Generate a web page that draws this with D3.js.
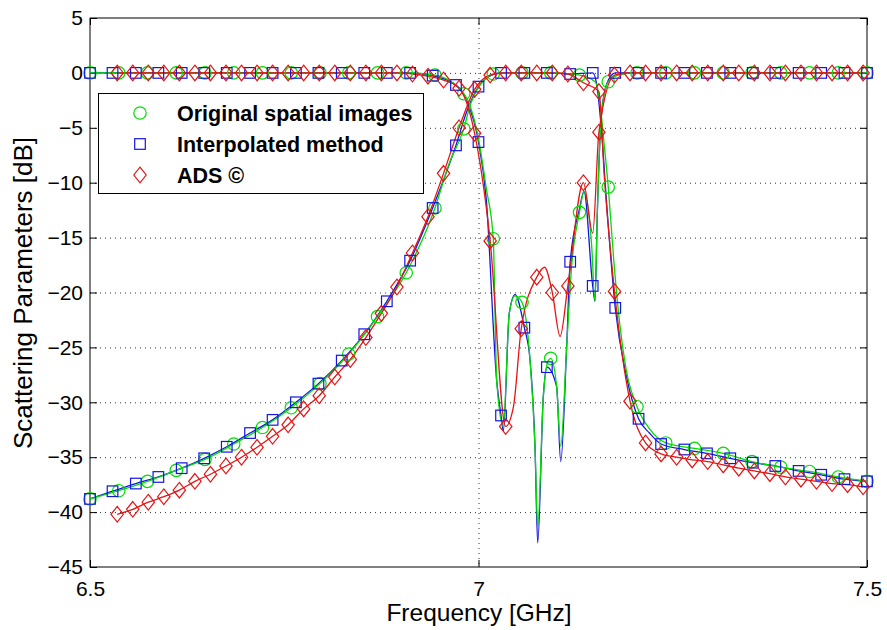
<!DOCTYPE html>
<html>
<head>
<meta charset="utf-8">
<script src="https://cdn.jsdelivr.net/npm/d3@7"></script>
<style>
  body { margin: 0; background: #fff; }
  svg { display: block; font-family: "Liberation Sans", Arial, Helvetica, sans-serif; }
</style>
</head>
<body>
<svg id="chart" width="887" height="630"></svg>
<script>
// marker samples, original spatial images (green circles)
const greenFreq = [6.5, 6.537, 6.574, 6.611, 6.648, 6.685, 6.722, 6.759, 6.796, 6.833, 6.870, 6.907, 6.944, 6.981,
  7.019, 7.056, 7.093, 7.130, 7.167, 7.204, 7.241, 7.278, 7.315, 7.352, 7.389, 7.426, 7.463, 7.5];
const greenS21 = [-38.8, -38.05, -37.2, -36.2, -35.2, -33.8, -32.3, -30.5, -28.3, -25.6, -22.2, -18.2, -12.3, -5.1,
  -0.1, 0, 0, -0.2, -10.4, -30.4, -33.7, -34.2, -34.65, -35.4, -35.9, -36.3, -36.8, -37.2];
const greenS11 = [0, 0, 0, 0, 0, 0, 0, 0, 0, 0, 0, 0, -0.2, -1.9,
  -15.1, -20.9, -26.0, -12.7, -0.8, 0, 0, 0, 0, 0, 0, 0, 0, 0];

// interpolated method (blue squares)
const blueFreq = [6.5, 6.529, 6.559, 6.588, 6.618, 6.647, 6.676, 6.706, 6.735, 6.765, 6.794, 6.824, 6.853, 6.882,
  6.912, 6.941, 6.971, 7.0, 7.029, 7.059, 7.088, 7.118, 7.147, 7.176, 7.206, 7.235, 7.265, 7.294, 7.324, 7.353,
  7.382, 7.412, 7.441, 7.471, 7.5];
const blueS21 = [-38.8, -38.1, -37.4, -36.8, -36.0, -35.1, -34.05, -32.8, -31.6, -30.0, -28.3, -26.2, -23.8, -20.8,
  -17.1, -12.3, -6.6, -1.25, 0, 0, 0, -0.1, 0, -21.4, -31.5, -33.8, -34.3, -34.65, -35.1, -35.5,
  -35.8, -36.25, -36.6, -37.0, -37.2];
const blueS11 = [0, 0, 0, 0, 0, 0, 0, 0, 0, 0, 0, 0, 0, 0,
  0, -0.25, -1.1, -6.3, -31.2, -23.2, -26.8, -17.2, -19.4, 0, 0, 0, 0, 0, 0, 0,
  0, 0, 0, 0, 0];

// ADS (red diamonds)
const adsFreq = [6.535, 6.555, 6.575, 6.595, 6.615, 6.635, 6.655, 6.675, 6.695, 6.715, 6.735, 6.755, 6.775, 6.795,
  6.815, 6.835, 6.855, 6.875, 6.895, 6.915, 6.935, 6.955, 6.975, 6.995, 7.015, 7.035, 7.055, 7.075, 7.095, 7.115,
  7.135, 7.155, 7.175, 7.195, 7.215, 7.235, 7.255, 7.275, 7.295, 7.315, 7.335, 7.355, 7.375, 7.395, 7.415, 7.435,
  7.455, 7.475, 7.495];
const adsS21 = [-40.2, -39.75, -39.1, -38.6, -38.0, -37.2, -36.55, -35.8, -35.0, -34.1, -33.1, -32.05, -30.6, -29.4,
  -27.7, -26.1, -24.1, -21.9, -19.5, -16.4, -13.1, -9.15, -5.0, -1.5, -0.2, 0, 0, 0, 0, -0.1,
  -0.9, -1.7, -19.9, -29.9, -33.7, -34.7, -35.0, -35.25, -35.4, -35.7, -36.0, -36.25, -36.5, -36.8, -37.0, -37.2,
  -37.4, -37.5, -37.7];
const adsS11 = [0, 0, 0, 0, 0, 0, 0, 0, 0, 0, 0, 0, 0, 0,
  0, 0, 0, 0, 0, -0.1, -0.3, -0.65, -1.4, -5.5, -15.3, -32.2, -23.3, -18.6, -20.0, -19.4,
  -10.0, -5.4, -0.2, 0, 0, 0, 0, 0, 0, 0, 0, 0, 0, 0, 0, 0,
  0, 0, 0];

// extra samples of the continuous curves (between markers)
const greenS11Extra = [[6.99, -3.2], [7.0, -6.0], [7.01, -10.5], [7.0234, -28], [7.0319, -32.2], [7.0396, -21.9],
  [7.047, -20.3], [7.0663, -26.1], [7.0727, -34], [7.0762, -41.3], [7.0834, -29.5], [7.0898, -26.2],
  [7.1006, -28.6], [7.1058, -34], [7.1135, -24.9], [7.12, -17.5], [7.1358, -10.8], [7.1457, -15.8],
  [7.1499, -20.8], [7.1529, -12.8], [7.158, -4], [7.18, -0.2]];
const greenS21Extra = [[6.962, -8.3], [6.99, -2.8], [7.0, -1.3], [7.01, -0.5], [7.15, -0.8], [7.156, -2.5],
  [7.161, -6], [7.174, -17], [7.182, -23], [7.19, -27], [7.22, -32.4]];
const blueS11Extra = [[6.985, -2.5], [7.01, -11.5], [7.0234, -28], [7.032, -32.6], [7.0396, -21.9], [7.047, -20.2],
  [7.0663, -26.1], [7.0727, -34], [7.0762, -42.8], [7.0834, -29.5], [7.1006, -28.6], [7.1058, -35.4],
  [7.1135, -24.9], [7.1296, -12.5], [7.1358, -10.8], [7.1499, -20.8], [7.1529, -12.8], [7.158, -4], [7.165, -1]];
const blueS21Extra = [[6.985, -3.5], [7.012, -0.4], [7.152, -1], [7.158, -5], [7.165, -12], [7.19, -27.5], [7.22, -32.8]];
const adsS11Extra = [[7.045, -30.4], [7.085, -17.7], [7.105, -24.0], [7.147, -14.6]];
const adsS21Extra = [[7.162, -9.5]];

const yTicks = [-45, -40, -35, -30, -25, -20, -15, -10, -5, 0, 5];
const xTicks = [6.5, 7, 7.5];
const legendLabels = ['Original spatial images', 'Interpolated method', 'ADS \u00A9'];

const svg = d3.select('#chart');
const x = d3.scaleLinear().domain([6.5, 7.5]).range([90, 867]);
const y = d3.scaleLinear().domain([-45, 5]).range([567, 18]);

// grid (dotted)
const grid = svg.append('g').attr('stroke', '#333').attr('stroke-width', 1).attr('stroke-dasharray', '1,4');
grid.selectAll('.gy').data(yTicks.filter(d => d > -45 && d < 5)).enter().append('line')
  .attr('x1', x(6.5)).attr('x2', x(7.5)).attr('y1', d => y(d) + 0.5).attr('y2', d => y(d) + 0.5);
grid.append('line').attr('x1', x(7) + 0.5).attr('x2', x(7) + 0.5).attr('y1', y(5)).attr('y2', y(-45));

// axes with inward ticks
const fmt = d => d3.format('')(d).replace('-', '\u2212');
const axLeft = svg.append('g').attr('transform', `translate(${x(6.5)},0)`)
  .call(d3.axisLeft(y).tickValues(yTicks).tickSizeInner(-7).tickSizeOuter(0).tickPadding(7).tickFormat(fmt));
const axRight = svg.append('g').attr('transform', `translate(${x(7.5)},0)`)
  .call(d3.axisRight(y).tickValues(yTicks).tickSizeInner(-7).tickSizeOuter(0).tickFormat(''));
const axBottom = svg.append('g').attr('transform', `translate(0,${y(-45)})`)
  .call(d3.axisBottom(x).tickValues(xTicks).tickSizeInner(-7).tickSizeOuter(0).tickPadding(14).tickFormat(d3.format('')));
const axTop = svg.append('g').attr('transform', `translate(0,${y(5)})`)
  .call(d3.axisTop(x).tickValues(xTicks).tickSizeInner(-7).tickSizeOuter(0).tickFormat(''));
[axLeft, axRight, axBottom, axTop].forEach(a => {
  a.select('.domain').remove();
  a.selectAll('line').attr('stroke', '#000');
  a.selectAll('text').attr('font-size', 21).attr('fill', '#000')
    .attr('font-family', '"Liberation Sans", Arial, Helvetica, sans-serif');
});

svg.append('rect').attr('x', x(6.5)).attr('y', y(5)).attr('width', x(7.5) - x(6.5)).attr('height', y(-45) - y(5))
  .attr('fill', 'none').attr('stroke', '#000').attr('stroke-width', 1);

// axis titles
svg.append('text').attr('x', 479).attr('y', 621).attr('text-anchor', 'middle').attr('font-size', 24.5)
  .text('Frequency [GHz]');
svg.append('text').attr('transform', 'translate(32,293) rotate(-90)').attr('text-anchor', 'middle')
  .attr('font-size', 26).text('Scattering Parameters [dB]');

// series
const methods = [
  { freq: greenFreq, s11: greenS11, s21: greenS21, e11: greenS11Extra, e21: greenS21Extra, color: '#00dd00', shape: 'circle' },
  { freq: blueFreq, s11: blueS11, s21: blueS21, e11: blueS11Extra, e21: blueS21Extra, color: '#1414e6', shape: 'square' },
  { freq: adsFreq, s11: adsS11, s21: adsS21, e11: adsS11Extra, e21: adsS21Extra, color: '#e61414', shape: 'diamond' }
];

const line = d3.line().x(d => x(d[0])).y(d => y(d[1])).curve(d3.curveMonotoneX);

function marker(g, shape, cx, cy) {
  if (shape === 'circle') {
    g.append('circle').attr('cx', cx).attr('cy', cy).attr('r', 6.2);
  } else if (shape === 'square') {
    g.append('rect').attr('x', cx - 5.3).attr('y', cy - 5.3).attr('width', 10.6).attr('height', 10.6);
  } else {
    g.append('path').attr('d', `M${cx},${cy - 7.8}L${cx + 6.2},${cy}L${cx},${cy + 7.8}L${cx - 6.2},${cy}Z`);
  }
}

const plot = svg.append('g');
// blue curves sit under the green ones, red on top
[methods[1], methods[0], methods[2]].forEach(m => {
  [[m.s11, m.e11], [m.s21, m.e21]].forEach(([vals, extra]) => {
    const pts = d3.zip(m.freq, vals).concat(extra).sort((a, b) => a[0] - b[0]);
    plot.append('path').attr('d', line(pts)).attr('fill', 'none')
      .attr('stroke', m.color).attr('stroke-width', 1.3);
  });
});
methods.forEach(m => {
  const g = plot.append('g').attr('fill', 'none').attr('stroke', m.color).attr('stroke-width', 1.2);
  m.freq.forEach((f, i) => {
    marker(g, m.shape, x(f), y(m.s11[i]));
    marker(g, m.shape, x(f), y(m.s21[i]));
  });
});

// legend
const lg = svg.append('g');
lg.append('rect').attr('x', 98.5).attr('y', 93.5).attr('width', 325).attr('height', 100)
  .attr('fill', '#fff').attr('stroke', '#000').attr('stroke-width', 1);
const rowsY = [113, 144, 175];
methods.forEach((m, i) => {
  const g = lg.append('g').attr('fill', 'none').attr('stroke', m.color).attr('stroke-width', 1.2);
  marker(g, m.shape, 140, rowsY[i]);
  lg.append('text').attr('x', 177).attr('y', rowsY[i] + 8).attr('font-size', 21.5).attr('font-weight', 'bold')
    .text(legendLabels[i]);
});
</script>
</body>
</html>
